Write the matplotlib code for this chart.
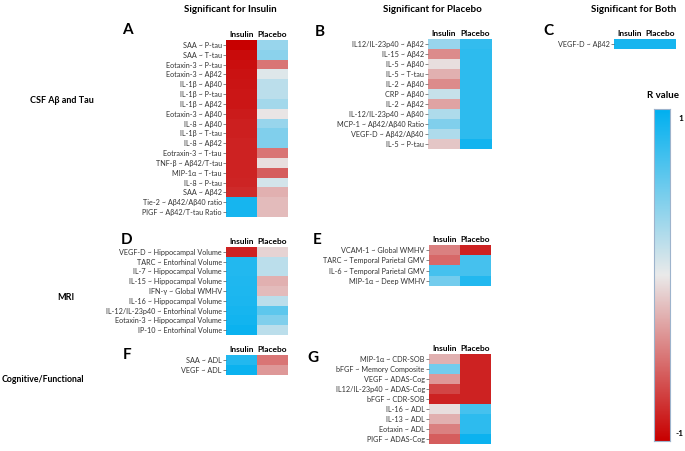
import numpy as np
import matplotlib
matplotlib.use("Agg")
import matplotlib.pyplot as plt
from matplotlib.colors import LinearSegmentedColormap

plt.rcParams['font.family'] = ['Lato', 'DejaVu Sans']

W, H = 685, 451
cols = ["Insulin", "Placebo"]

a_labels = ["SAA ~ P-tau", "SAA ~ T-tau", "Eotaxin-3 ~ P-tau", "Eotaxin-3 ~ Aβ42",
            "IL-1β ~ Aβ40", "IL-1β ~ P-tau", "IL-1β ~ Aβ42", "Eotaxin-3 ~ Aβ40",
            "IL-8 ~ Aβ40", "IL-1β ~ T-tau", "IL-8 ~ Aβ42", "Eotraxin-3 ~ T-tau",
            "TNF-β ~ Aβ42/T-tau", "MIP-1α ~ T-tau", "IL-8 ~ P-tau", "SAA ~ Aβ42",
            "Tie-2 ~ Aβ42/Aβ40 ratio", "PlGF ~ Aβ42/T-tau Ratio"]
a_insulin = [-1.0, -0.95, -0.93, -0.92, -0.91, -0.9, -0.9, -0.88, -0.86, -0.86,
             -0.85, -0.85, -0.85, -0.85, -0.84, -0.82, 0.9, 0.9]
a_placebo = [0.35, 0.4, -0.5, 0.05, 0.2, 0.2, 0.3, -0.02, 0.35, 0.45,
             0.45, -0.5, -0.05, -0.6, 0.1, -0.25, -0.2, -0.2]

b_labels = ["IL12/IL-23p40 ~ Aβ42", "IL-15 ~ Aβ42", "IL-5 ~ Aβ40", "IL-5 ~ T-tau",
            "IL-2 ~ Aβ40", "CRP ~ Aβ40", "IL-2 ~ Aβ42", "IL-12/IL-23p40 ~ Aβ40",
            "MCP-1 ~ Aβ42/Aβ40 Ratio", "VEGF-D ~ Aβ42/Aβ40", "IL-5 ~ P-tau"]
b_insulin = [0.35, -0.4, -0.05, -0.25, -0.4, 0.15, -0.3, 0.25, 0.45, 0.25, -0.15]
b_placebo = [0.78, 0.8, 0.8, 0.8, 0.8, 0.8, 0.8, 0.8, 0.8, 0.8, 0.92]

c_labels = ["VEGF-D ~ Aβ42"]
c_insulin = [0.9]
c_placebo = [0.9]

d_labels = ["VEGF-D ~ Hippocampal Volume", "TARC ~ Entorhinal Volume",
            "IL-7 ~ Hippocampal Volume", "IL-15 ~ Hippocampal Volume",
            "IFN-γ ~ Global WMHV", "IL-16 ~ Hippocampal Volume",
            "IL-12/IL-23p40 ~ Entorhinal Volume", "Eotaxin-3 ~ Hippocampal Volume",
            "IP-10 ~ Entorhinal Volume"]
d_insulin = [-0.85, 0.85, 0.85, 0.86, 0.87, 0.88, 0.9, 0.92, 0.95]
d_placebo = [-0.1, 0.2, 0.2, -0.25, -0.2, 0.2, 0.6, 0.45, 0.2]

e_labels = ["VCAM-1 ~ Global WMHV", "TARC ~ Temporal Parietal GMV",
            "IL-6 ~ Temporal Parietal GMV", "MIP-1α ~ Deep WMHV"]
e_insulin = [-0.45, -0.55, 0.7, 0.5]
e_placebo = [-0.85, 0.7, 0.7, 0.85]

f_labels = ["SAA ~ ADL", "VEGF ~ ADL"]
f_insulin = [0.85, 0.95]
f_placebo = [-0.5, -0.35]

g_labels = ["MIP-1α ~ CDR-SOB", "bFGF ~ Memory Composite", "VEGF ~ ADAS-Cog",
            "IL12/IL-23p40 ~ ADAS-Cog", "bFGF ~ CDR-SOB", "IL-16 ~ ADL",
            "IL-13 ~ ADL", "Eotaxin ~ ADL", "PlGF ~ ADAS-Cog"]
g_insulin = [-0.25, 0.5, -0.35, -0.7, -0.85, -0.05, -0.25, -0.45, -0.6]
g_placebo = [-0.85, -0.85, -0.85, -0.85, -0.85, 0.7, 0.8, 0.8, 0.95]

cmap = LinearSegmentedColormap.from_list(
    "rv", [(0.0, "#C80000"), (0.5, "#EAEAEA"), (1.0, "#00B0F0")])

fig = plt.figure(figsize=(W / 100, H / 100), dpi=100)


def px_axes(x0, y0, x1, y1):
    return fig.add_axes([x0 / W, 1 - y1 / H, (x1 - x0) / W, (y1 - y0) / H])


def heat(x0, y0, x1, y1, labels, ins, pla):
    ax = px_axes(x0, y0, x1, y1)
    data = np.column_stack([ins, pla])
    ax.imshow(data, cmap=cmap, vmin=-1, vmax=1, aspect='auto',
              interpolation='nearest')
    ax.set_yticks(range(len(labels)))
    ax.set_yticklabels(labels, fontsize=5.2, color="#333333")
    ax.tick_params(axis='y', length=2, width=0.5, pad=1, color="#555555")
    ax.set_xticks([0, 1])
    ax.set_xticklabels(cols, fontsize=6, fontweight='bold')
    ax.xaxis.tick_top()
    ax.tick_params(axis='x', length=0, pad=1.5)
    for s in ax.spines.values():
        s.set_visible(False)
    return ax


heat(226, 40, 288, 217, a_labels, a_insulin, a_placebo)
heat(428, 39, 491, 149, b_labels, b_insulin, b_placebo)
heat(614, 39, 676, 49, c_labels, c_insulin, c_placebo)
heat(226, 247, 288, 335, d_labels, d_insulin, d_placebo)
heat(429, 245, 491, 286, e_labels, e_insulin, e_placebo)
heat(226, 355, 288, 375, f_labels, f_insulin, f_placebo)
heat(429, 354, 491, 444, g_labels, g_insulin, g_placebo)

# colorbar
cax = px_axes(654, 109, 670, 441)
grad = np.linspace(1, -1, 256).reshape(-1, 1)
cax.imshow(grad, cmap=cmap, vmin=-1, vmax=1, aspect='auto')
cax.set_xticks([])
cax.set_yticks([])
for s in cax.spines.values():
    s.set_color("#9DB3CC")
    s.set_linewidth(0.8)


def ftext(x, y, s, **kw):
    fig.text(x / W, 1 - y / H, s, **kw)


ftext(678, 118, "1", fontsize=6, fontweight='bold', va='center', ha='left')
ftext(676, 433, "-1", fontsize=6, fontweight='bold', va='center', ha='left')
ftext(663, 95, "R value", fontsize=7, fontweight='bold', va='center', ha='center')

ftext(230, 9, "Significant for Insulin", fontsize=7, fontweight='bold', ha='center', va='center')
ftext(432, 9, "Significant for Placebo", fontsize=7, fontweight='bold', ha='center', va='center')
ftext(634, 9, "Significant for Both", fontsize=7, fontweight='bold', ha='center', va='center')

for x, y, s in [(127, 30, "A"), (320, 32, "B"), (548, 31, "C"), (127, 240, "D"),
                (317, 240, "E"), (127, 355, "F"), (313, 358, "G")]:
    ftext(x, y, s, fontsize=11, fontweight='bold', ha='center', va='center')

ftext(62, 101, "CSF Aβ and Tau", fontsize=6.5, fontweight='bold', ha='center', va='center')
ftext(66, 297, "MRI", fontsize=6.5, fontweight='bold', ha='center', va='center')
ftext(2, 380, "Cognitive/Functional", fontsize=6.3, fontweight='bold', ha='left', va='center')

fig.savefig("out.png", dpi=100, facecolor="white")
